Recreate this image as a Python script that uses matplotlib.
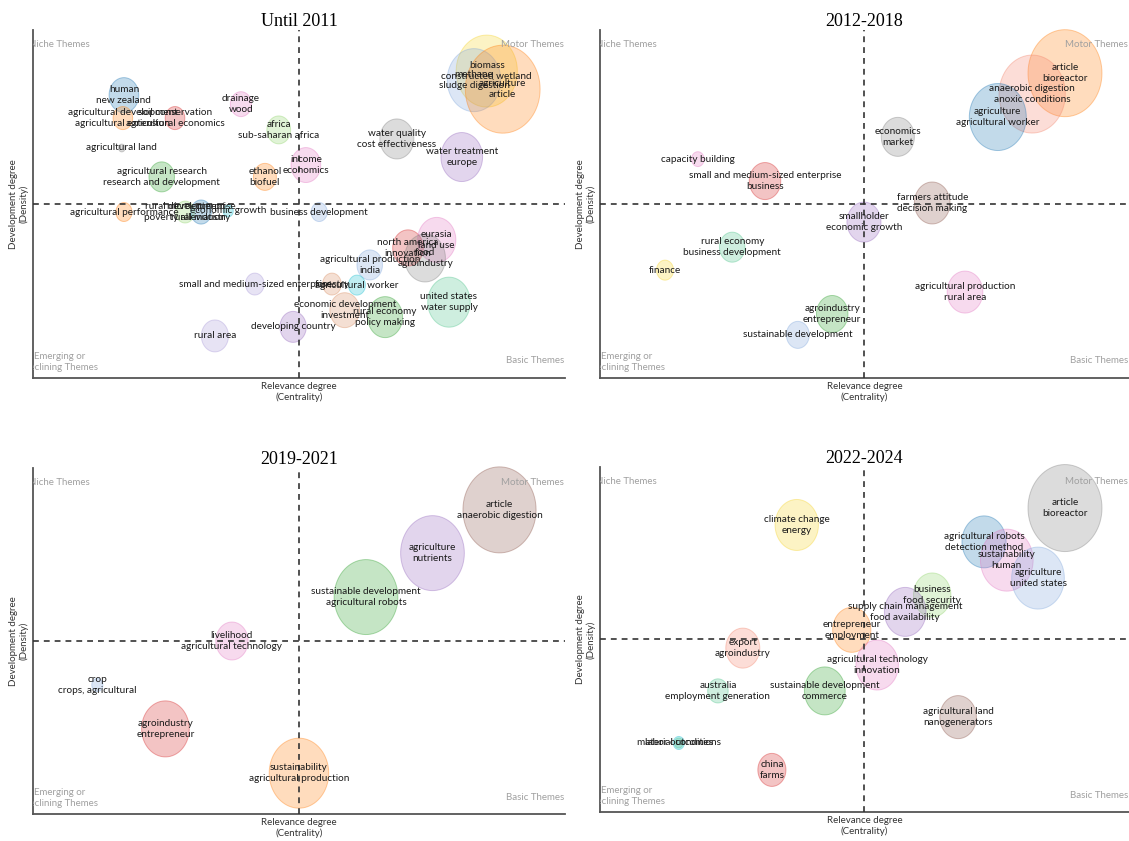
import matplotlib.pyplot as plt
import matplotlib.colors as mcolors
from matplotlib.path import Path
import numpy as np

plt.rcParams['font.family'] = ['Lato', 'DejaVu Sans']

PAL = {
    'blue': '#1f77b4', 'orange': '#ff7f0e', 'green': '#2ca02c', 'red': '#d62728',
    'purple': '#9467bd', 'brown': '#8c564b', 'pink': '#e377c2', 'gray': '#7f7f7f',
    'lime': '#8fd46a', 'cyan': '#17becf', 'yellow': '#f5d328', 'salmon': '#f4846c',
    'mint': '#4cc38a', 'lavender': '#a898d8', 'steel': '#7fa6dc', 'tan': '#d98c5f',
}

# ---- Until 2011 ----
labels_2011 = [
    "human\nnew zealand", "agricultural development\nagricultural extension",
    "soil conservation\nagricultural economics", "drainage\nwood",
    "africa\nsub-saharan africa", "agricultural land",
    "agricultural research\nresearch and development", "ethanol\nbiofuel",
    "income\neconomics", "water quality\ncost effectiveness",
    "water treatment\neurope", "biomass\nconstructed wetland",
    "methane\nsludge digestion", "agriculture\narticle",
    "business development", "agricultural performance",
    "rural development\npoverty alleviation", "microenterprise\nrural industry",
    "economic growth", "north america\ninnovation", "eurasia\nland use",
    "food\nagroindustry", "agricultural production\nindia", "forestry",
    "agricultural worker", "small and medium-sized enterprise",
    "economic development\ninvestment", "rural economy\npolicy making",
    "united states\nwater supply", "developing country", "rural area",
]
cent_2011 = [0.171, 0.169, 0.267, 0.391, 0.462, 0.167, 0.242, 0.436, 0.513, 0.684,
             0.806, 0.853, 0.829, 0.883, 0.538, 0.171, 0.286, 0.316, 0.367, 0.705,
             0.759, 0.737, 0.633, 0.562, 0.609, 0.417, 0.586, 0.662, 0.782, 0.489, 0.342]
dens_2011 = [0.813, 0.747, 0.747, 0.787, 0.713, 0.661, 0.578, 0.578, 0.612, 0.687,
             0.635, 0.882, 0.856, 0.830, 0.477, 0.477, 0.477, 0.477, 0.480, 0.374,
             0.397, 0.345, 0.325, 0.270, 0.267, 0.270, 0.195, 0.175, 0.218, 0.147, 0.121]
freq_2011 = [122, 53, 53, 62, 78, 6, 90, 73, 122, 160,
             240, 518, 397, 774, 36, 36, 48, 58, 14, 130,
             202, 230, 90, 48, 40, 48, 122, 168, 250, 96, 102]
colors_2011 = ['blue', 'orange', 'red', 'pink', 'lime', 'gray', 'green', 'orange', 'pink', 'gray',
               'purple', 'yellow', 'steel', 'orange', 'steel', 'orange', 'lime', 'blue', 'cyan', 'red',
               'pink', 'gray', 'steel', 'tan', 'cyan', 'lavender', 'tan', 'green', 'mint', 'purple', 'lavender']

# ---- 2012-2018 ----
labels_2018 = [
    "article\nbioreactor", "anaerobic digestion\nanoxic conditions",
    "agriculture\nagricultural worker", "economics\nmarket",
    "farmers attitude\ndecision making", "capacity building",
    "small and medium-sized enterprise\nbusiness", "smallholder\neconomic growth",
    "rural economy\nbusiness development", "finance",
    "agricultural production\nrural area", "agroindustry\nentrepreneur",
    "sustainable development",
]
cent_2018 = [0.879, 0.817, 0.752, 0.563, 0.628, 0.185, 0.312, 0.499, 0.250, 0.123, 0.690, 0.439, 0.374]
dens_2018 = [0.876, 0.816, 0.750, 0.693, 0.503, 0.629, 0.566, 0.448, 0.376, 0.310, 0.247, 0.184, 0.124]
freq_2018 = [757, 608, 449, 152, 176, 22, 137, 160, 90, 40, 176, 137, 73]
colors_2018 = ['orange', 'salmon', 'blue', 'gray', 'brown', 'pink', 'red', 'purple', 'mint',
               'yellow', 'pink', 'green', 'steel']

# ---- 2019-2021 ----
labels_2021 = [
    "article\nanaerobic digestion", "agriculture\nnutrients",
    "sustainable development\nagricultural robots", "livelihood\nagricultural technology",
    "crop\ncrops, agricultural", "agroindustry\nentrepreneur",
    "sustainability\nagricultural production",
]
cent_2021 = [0.877, 0.751, 0.626, 0.374, 0.121, 0.249, 0.500]
dens_2021 = [0.879, 0.754, 0.627, 0.500, 0.373, 0.246, 0.118]
freq_2021 = [740, 562, 562, 144, 17, 314, 490]
colors_2021 = ['brown', 'purple', 'green', 'pink', 'steel', 'red', 'orange']

# ---- 2022-2024 ----
labels_2024 = [
    "article\nbioreactor", "climate change\nenergy",
    "agricultural robots\ndetection method", "sustainability\nhuman",
    "agriculture\nunited states", "business\nfood security",
    "supply chain management\nfood availability", "entrepreneur\nemployment",
    "export\nagroindustry", "agricultural technology\ninnovation",
    "sustainable development\ncommerce", "australia\nemployment generation",
    "agricultural land\nnanogenerators", "material conditions", "labor outcomes",
    "china\nfarms",
]
cent_2024 = [0.879, 0.372, 0.726, 0.769, 0.828, 0.628, 0.577, 0.476, 0.270, 0.524,
             0.425, 0.223, 0.677, 0.149, 0.149, 0.325]
dens_2024 = [0.881, 0.832, 0.783, 0.730, 0.678, 0.629, 0.580, 0.528, 0.475, 0.426,
             0.351, 0.351, 0.275, 0.200, 0.200, 0.122]
freq_2024 = [757, 260, 270, 384, 384, 194, 240, 202, 160, 250,
             230, 58, 185, 17, 10, 109]
colors_2024 = ['gray', 'yellow', 'blue', 'pink', 'steel', 'lime', 'purple', 'orange',
               'salmon', 'pink', 'green', 'mint', 'brown', 'cyan', 'mint', 'red']

panels = [
    ("Until 2011", labels_2011, cent_2011, dens_2011, freq_2011, colors_2011, [0.0292, 0.5505, 0.4712, 0.4138]),
    ("2012-2018", labels_2018, cent_2018, dens_2018, freq_2018, colors_2018, [0.5314, 0.5505, 0.4686, 0.4138]),
    ("2019-2021", labels_2021, cent_2021, dens_2021, freq_2021, colors_2021, [0.0292, 0.0321, 0.4712, 0.4114]),
    ("2022-2024", labels_2024, cent_2024, dens_2024, freq_2024, colors_2024, [0.5314, 0.0345, 0.4686, 0.4102]),
]

# slightly tall ellipse marker (bubbles look stretched vertically)
t = np.linspace(0, 2 * np.pi, 80)
ellipse = Path(np.column_stack([0.85 * np.cos(t), np.sin(t)]), closed=True)

fig = plt.figure(figsize=(11.29, 8.41), dpi=100)

for title, labels, cent, dens, freq, cols, pos in panels:
    ax = fig.add_axes(pos)
    ax.set_xlim(0, 1)
    ax.set_ylim(0, 1)
    for s in ['top', 'right']:
        ax.spines[s].set_visible(False)
    for s in ['left', 'bottom']:
        ax.spines[s].set_color('#555555')
        ax.spines[s].set_linewidth(1.3)
    ax.set_xticks([])
    ax.set_yticks([])

    face = [mcolors.to_rgba(PAL[c], 0.27) for c in cols]
    edge = [mcolors.to_rgba(PAL[c], 0.38) for c in cols]
    ax.scatter(cent, dens, s=np.array(freq) * 5.184, marker=ellipse,
               facecolors=face, edgecolors=edge, linewidths=0.7, zorder=2, clip_on=False)

    ax.axvline(0.5, color='#333333', lw=1.2, ls=(0, (3.5, 3)), zorder=3)
    ax.axhline(0.5, color='#333333', lw=1.2, ls=(0, (3.5, 3)), zorder=3)

    for lab, x, y in zip(labels, cent, dens):
        ax.text(x, y, lab, ha='center', va='center', fontsize=7.2, color='#1a1a1a',
                linespacing=1.3, zorder=4)

    qcol = '#a0a0a0'
    ax.text(-0.008, 0.957, "Niche Themes", transform=ax.transAxes, ha='left', va='center',
            fontsize=7, color=qcol, clip_on=True)
    ax.text(0.998, 0.957, "Motor Themes", transform=ax.transAxes, ha='right', va='center',
            fontsize=7, color=qcol, clip_on=True)
    ax.text(-0.021, 0.047, "Emerging or\nDeclining Themes", transform=ax.transAxes, ha='left',
            va='center', multialignment='center', fontsize=7, color=qcol, clip_on=True,
            linespacing=1.3)
    ax.text(0.998, 0.049, "Basic Themes", transform=ax.transAxes, ha='right', va='center',
            fontsize=7, color=qcol, clip_on=True)

    ax.set_xlabel("Relevance degree\n(Centrality)", fontsize=7, color='#333333', labelpad=3)
    ax.set_ylabel("Development degree\n(Density)", fontsize=7, color='#333333', labelpad=3)
    ax.set_title(title, fontfamily='Liberation Serif', fontsize=13, pad=3)

fig.savefig('out.png', dpi=100)
